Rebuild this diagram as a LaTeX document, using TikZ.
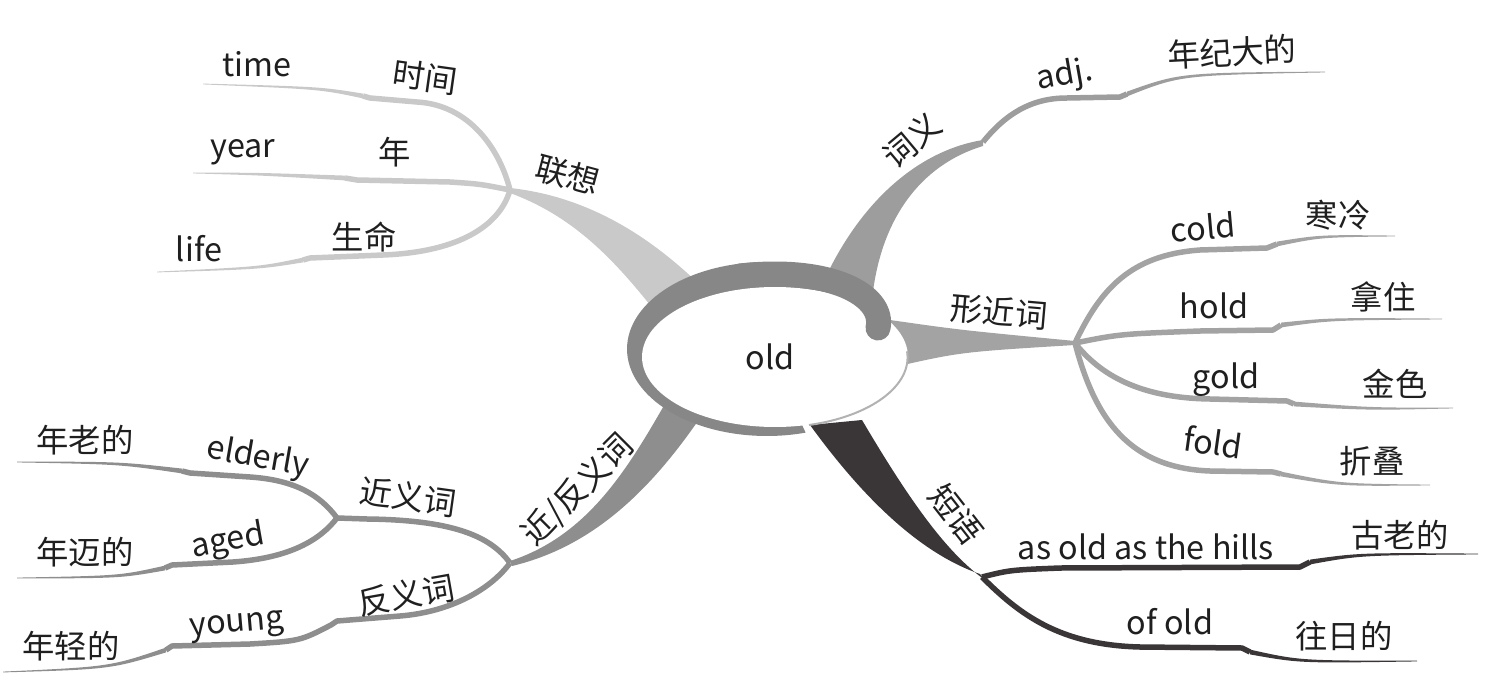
\documentclass[tikz,border=0pt]{standalone}
\usepackage{fontspec}
\setmainfont{Noto Sans CJK SC}
\usetikzlibrary{calc}
\definecolor{ink}     {HTML}{1F1F1F}
\definecolor{cRing}   {HTML}{878787}
\definecolor{cAssoc}  {HTML}{C9C9C9}
\definecolor{cSense}  {HTML}{9D9D9D}
\definecolor{cForm}   {HTML}{A3A3A3}
\definecolor{cPhrase} {HTML}{3A3638}
\definecolor{cNear}   {HTML}{8E8E8E}

% thin tapering end of a twig: colour, start, control, end
\newcommand{\tail}[4]{%
  \fill[#1] ($(#2)+(0,-2.4)$) .. controls ($#3+(0,-1.3)$) .. ($(#4)+(0,-0.4)$)
    -- ($(#4)+(0,0.4)$) .. controls ($#3+(0,1.3)$) .. ($(#2)+(0,2.4)$) -- cycle;}

\begin{document}
\begin{tikzpicture}[x=0.02cm,y=-0.02cm,
    lbl/.style={font=\fontsize{18.4}{22}\selectfont,text=ink,inner sep=0pt},
    twig/.style={line width=0.11cm,line join=round}]
  \useasboundingbox (0,0) rectangle (1500,696);

  % junctions
  \coordinate (assoc)  at (510,190);
  \coordinate (sense)  at (983,142);
  \coordinate (form)   at (1075,343);
  \coordinate (phrase) at (982,577);
  \coordinate (near)   at (510,563);
  \coordinate (syn)    at (337,518);

  % main branches
  \fill[cAssoc] ($(assoc)+(0,-2)$) .. controls (575,195) and (640,225) .. (705,290)
    -- (650,305) .. controls (610,255) and (570,215) .. ($(assoc)+(0,3)$) -- cycle;
  \fill[cSense] ($(sense)+(0,-2)$) .. controls (920,150) and (860,200) .. (822,285)
    -- (872,300) .. controls (880,220) and (920,165) .. ($(sense)+(0,4)$) -- cycle;
  \fill[cForm] ($(form)+(0,-2)$) .. controls (960,330) .. (890,320)
    -- (890,368) .. controls (960,352) .. ($(form)+(0,2)$) -- cycle;
  \fill[cPhrase] (810,425) .. controls (850,480) and (910,550) .. ($(phrase)+(-2,-3)$)
    -- ($(phrase)+(3,3)$) .. controls (950,555) and (915,510) .. (862,420) -- cycle;
  \fill[cNear] ($(near)+(0,-2)$) .. controls (590,535) and (630,465) .. (670,395)
    -- (712,400) .. controls (660,480) and (600,545) .. ($(near)+(2,3)$) -- cycle;

  % association twigs
  \coordinate (timeK) at (363,96);   \coordinate (timeE) at (203,84);
  \coordinate (yearK) at (345,178);  \coordinate (yearE) at (193,173);
  \coordinate (lifeK) at (303,260);  \coordinate (lifeE) at (157,272);
  \draw[twig,cAssoc] (assoc) .. controls (500,150) and (470,105) .. (417,102) -- (370,98) -- (timeK);
  \tail{cAssoc}{timeK}{(320,88)}{timeE}
  \draw[twig,cAssoc] (assoc) .. controls (480,184) .. (450,182) -- (357,180) -- (yearK);
  \tail{cAssoc}{yearK}{(260,174)}{yearE}
  \draw[twig,cAssoc] (assoc) .. controls (500,225) and (460,252) .. (383,255) -- (310,258) -- (lifeK);
  \tail{cAssoc}{lifeK}{(260,268)}{lifeE}

  % meaning twig
  \coordinate (adjK) at (1127,94);   \coordinate (adjE) at (1325,72);
  \draw[twig,cSense] (sense) .. controls (1005,115) and (1030,98) .. (1067,98) -- (1120,97) -- (adjK);
  \tail{cSense}{adjK}{(1180,74)}{adjE}

  % look-alike twigs
  \coordinate (coldK) at (1277,244); \coordinate (coldE) at (1395,236);
  \coordinate (holdK) at (1281,325); \coordinate (holdE) at (1442,319);
  \coordinate (goldK) at (1294,404); \coordinate (goldE) at (1453,408);
  \coordinate (foldK) at (1281,474); \coordinate (foldE) at (1430,485);
  \draw[twig,cForm] (form) .. controls (1100,290) and (1130,255) .. (1200,250) -- (1267,248) -- (coldK);
  \tail{cForm}{coldK}{(1320,236)}{coldE}
  \draw[twig,cForm] (form) .. controls (1120,334) .. (1200,331) -- (1273,330) -- (holdK);
  \tail{cForm}{holdK}{(1330,319)}{holdE}
  \draw[twig,cForm] (form) .. controls (1100,375) and (1140,398) .. (1210,399) -- (1287,401) -- (goldK);
  \tail{cForm}{goldK}{(1370,409)}{goldE}
  \draw[twig,cForm] (form) .. controls (1095,420) and (1130,468) .. (1210,471) -- (1273,472) -- (foldK);
  \tail{cForm}{foldK}{(1340,485)}{foldE}

  % phrase twigs
  \coordinate (hillsK) at (1310,562); \coordinate (hillsE) at (1478,554);
  \coordinate (ofoldK) at (1250,652); \coordinate (ofoldE) at (1417,661);
  \draw[twig,cPhrase] (phrase) .. controls (1010,570) .. (1060,568) -- (1300,567) -- (hillsK);
  \tail{cPhrase}{hillsK}{(1360,554)}{hillsE}
  \draw[twig,cPhrase] (phrase) .. controls (1020,615) and (1060,645) .. (1140,647) -- (1242,648) -- (ofoldK);
  \tail{cPhrase}{ofoldK}{(1300,662)}{ofoldE}

  % synonym / antonym twigs
  \coordinate (elderK) at (182,471); \coordinate (elderE) at (17,462);
  \coordinate (agedK)  at (165,568); \coordinate (agedE)  at (17,578);
  \coordinate (youngK) at (166,650); \coordinate (youngE) at (3,672);
  \draw[twig,cNear] (near) .. controls (490,535) and (450,520) .. (367,519) -- (syn);
  \draw[twig,cNear] (syn) .. controls (320,495) and (295,480) .. (250,477) -- (190,473) -- (elderK);
  \tail{cNear}{elderK}{(120,463)}{elderE}
  \draw[twig,cNear] (syn) .. controls (320,540) and (290,558) .. (233,562) -- (172,565) -- (agedK);
  \tail{cNear}{agedK}{(120,577)}{agedE}
  \draw[twig,cNear] (near) .. controls (490,590) and (450,612) .. (400,616) -- (337,621) -- (331,625)
    .. controls (300,641) .. (250,644) -- (172,646) -- (youngK);
  \tail{cNear}{youngK}{(110,668)}{youngE}

  % centre
  \coordinate (hub) at (767,349);
  \begin{scope}
    \clip (hub) -- (1039,222) -- (1039,0) -- (400,0) -- (400,700) -- (893,622) -- cycle;
    \fill[cRing] (hub) ellipse [x radius=2.8cm,y radius=1.74cm];
  \end{scope}
  \fill[white] (775,357) ellipse [x radius=2.66cm,y radius=1.4cm];
  \draw[black!30,line width=0.04cm] (809,425) arc [start angle=-75,end angle=5,x radius=2.66cm,y radius=1.4cm];
  \draw[cRing,line width=0.5cm,line cap=round] (740,276) .. controls (830,266) and (885,295) .. (878,328);
  \node[lbl] (old) at (770,357) {old};

  % labels
  \node[lbl] (assocL)  at (568,175) [rotate=-15] {联想};
  \node[lbl] (timeZh)  at (425,77)  [rotate=-8]  {时间};
  \node[lbl] (timeEn)  at (257,64)  {time};
  \node[lbl] (yearZh)  at (395,152) {年};
  \node[lbl] (yearEn)  at (243,152) {year};
  \node[lbl] (lifeZh)  at (364,237) {生命};
  \node[lbl] (lifeEn)  at (199,249) {life};

  \node[lbl] (senseL)  at (912,140) [rotate=40]  {词义};
  \node[lbl] (adjEn)   at (1065,76) [rotate=10]  {adj.};
  \node[lbl] (adjZh)   at (1232,52) [rotate=3]   {年纪大的};

  \node[lbl] (formL)   at (999,312) [rotate=-5]  {形近词};
  \node[lbl] (coldEn)  at (1203,227) [rotate=5]  {cold};
  \node[lbl] (coldZh)  at (1338,215) {寒冷};
  \node[lbl] (holdEn)  at (1214,306) {hold};
  \node[lbl] (holdZh)  at (1383,297) {拿住};
  \node[lbl] (goldEn)  at (1226,380) {gold};
  \node[lbl] (goldZh)  at (1395,384) {金色};
  \node[lbl] (foldEn)  at (1213,442) [rotate=-8] {fold};
  \node[lbl] (foldZh)  at (1372,461) {折叠};

  \node[lbl] (phraseL) at (956,514) [rotate=-52] {短语};
  \node[lbl] (hillsEn) at (1146,547) {as old as the hills};
  \node[lbl] (hillsZh) at (1400,535) {古老的};
  \node[lbl] (ofoldEn) at (1170,622) {of old};
  \node[lbl] (ofoldZh) at (1344,636) {往日的};

  \node[lbl] (nearL)   at (578,490) [rotate=45]  {近/反义词};
  \node[lbl] (synL)    at (408,497) [rotate=-8]  {近义词};
  \node[lbl] (antL)    at (406,595) [rotate=10]  {反义词};
  \node[lbl] (elderEn) at (258,458) [rotate=-10] {elderly};
  \node[lbl] (elderZh) at (85,440)  {年老的};
  \node[lbl] (agedEn)  at (228,542) [rotate=10]  {aged};
  \node[lbl] (agedZh)  at (85,552)  {年迈的};
  \node[lbl] (youngEn) at (237,627) [rotate=5]   {young};
  \node[lbl] (youngZh) at (71,646)  {年轻的};
\end{tikzpicture}
\end{document}
